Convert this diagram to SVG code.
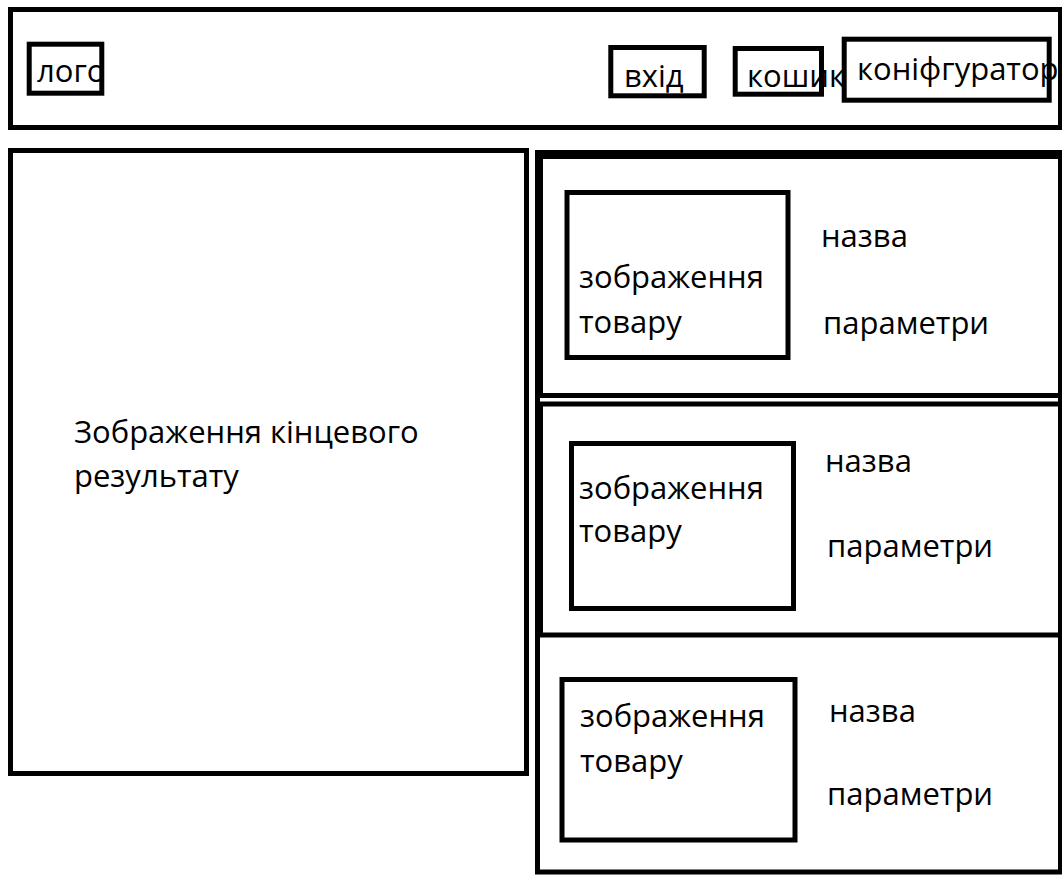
<svg xmlns="http://www.w3.org/2000/svg" width="1062" height="889" viewBox="0 0 1062 889">
<style>
.box{fill:none;stroke:#000;stroke-width:5}
.wbox{fill:#fff;stroke:#000;stroke-width:5}
.t{font-family:"Open Sans","Noto Sans","DejaVu Sans",sans-serif;font-size:31px;fill:#000}
</style>
<defs>
<clipPath id="logoClip"><rect x="29" y="44" width="73" height="50"/></clipPath>
</defs>
<rect width="1062" height="889" fill="#fff"/>
<g id="header">
<rect class="box" x="10.5" y="9.5" width="1050" height="118"/>
</g>
<g id="logo">
<text class="t" x="37" y="82" clip-path="url(#logoClip)">лого</text>
<rect class="box" x="29.2" y="44.2" width="72.6" height="49"/>
</g>
<g id="login">
<text class="t" x="624" y="86.5">вхід</text>
<rect class="box" x="610.8" y="47.5" width="93.4" height="48.3"/>
</g>
<g id="cart">
<text class="t" x="747" y="87">кошик</text>
<rect class="box" x="735.2" y="48.5" width="86.3" height="45.7"/>
</g>
<g id="configurator">
<rect class="wbox" x="844.2" y="39.2" width="205" height="61"/>
<text class="t" x="857" y="80">коніфгуратор</text>
</g>
<g id="result">
<rect class="box" x="10.5" y="150.5" width="516" height="623"/>
<text class="t" x="74" y="443">Зображення кінцевого</text>
<text class="t" x="74" y="487">результату</text>
</g>
<g id="products">
<rect class="box" x="537.5" y="152.5" width="523" height="719.5"/>
</g>
<g id="product1">
<rect class="box" x="540.5" y="156.5" width="520" height="239"/>
<rect class="box" x="567" y="192.5" width="221" height="165"/>
<text class="t" x="579" y="288">зображення</text>
<text class="t" x="579" y="333">товару</text>
<text class="t" x="821" y="247">назва</text>
<text class="t" x="823" y="334">параметри</text>
</g>
<g id="product2">
<rect class="box" x="540.5" y="404" width="520" height="231"/>
<rect class="box" x="571.5" y="443.5" width="222" height="165"/>
<text class="t" x="579" y="499">зображення</text>
<text class="t" x="579" y="542">товару</text>
<text class="t" x="825" y="472">назва</text>
<text class="t" x="827" y="557">параметри</text>
</g>
<g id="product3">
<rect class="box" x="562" y="679.5" width="233" height="160.5"/>
<text class="t" x="580" y="727">зображення</text>
<text class="t" x="580" y="772">товару</text>
<text class="t" x="829" y="722">назва</text>
<text class="t" x="827" y="805">параметри</text>
</g>
<g id="connectors"></g>
</svg>
